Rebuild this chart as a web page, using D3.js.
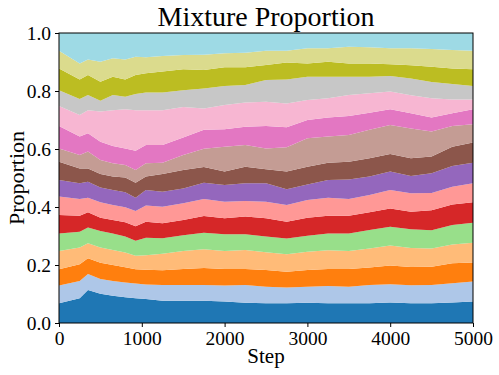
<!DOCTYPE html>
<html>
<head>
<meta charset="utf-8">
<script src="https://cdn.jsdelivr.net/npm/d3@7"></script>
<style>
  html, body { margin: 0; padding: 0; background: #fff; }
  svg text { font-family: "Liberation Serif", "Times New Roman", serif; fill: #000; }
</style>
</head>
<body>
<svg id="chart" width="499" height="375"></svg>
<script>
// ---- data ----
const steps = [0, 250, 350, 500, 650, 800, 925, 1050, 1250, 1500, 1750, 2000,
  2250, 2500, 2750, 3000, 3250, 3500, 3750, 4000, 4250, 4500, 4750, 5000];

const blue      = [.068,.085,.114,.101,.094,.089,.085,.083,.077,.077,.077,.074,.070,.068,.068,.070,.068,.068,.068,.071,.068,.068,.071,.074];
const lightBlue = [.061,.060,.055,.051,.051,.051,.051,.050,.054,.054,.054,.055,.061,.057,.054,.055,.060,.057,.063,.063,.062,.063,.066,.069];
const orange    = [.056,.058,.054,.056,.055,.052,.049,.051,.051,.055,.059,.057,.055,.058,.055,.058,.058,.061,.060,.064,.063,.063,.069,.066];
const lightOrng = [.063,.057,.052,.052,.052,.051,.047,.050,.057,.062,.064,.062,.066,.061,.060,.063,.065,.062,.066,.069,.066,.063,.065,.068];
const lightGrn  = [.061,.055,.054,.057,.057,.055,.052,.060,.053,.055,.057,.058,.054,.054,.054,.055,.058,.061,.064,.065,.064,.063,.067,.069];
const red       = [.063,.055,.053,.046,.046,.049,.050,.055,.052,.052,.058,.055,.061,.063,.058,.062,.061,.061,.061,.063,.061,.069,.071,.070];
const salmon    = [.064,.058,.050,.053,.052,.052,.052,.056,.057,.058,.059,.057,.054,.057,.058,.061,.062,.058,.059,.064,.063,.059,.061,.066];
const purple    = [.057,.054,.055,.051,.052,.052,.046,.054,.052,.051,.056,.058,.061,.064,.054,.054,.061,.067,.064,.063,.060,.068,.071,.071];
const brown     = [.063,.051,.046,.047,.046,.051,.052,.046,.061,.064,.054,.046,.057,.048,.061,.061,.060,.061,.063,.061,.061,.058,.067,.069];
const tan       = [.046,.046,.058,.048,.046,.043,.044,.046,.039,.051,.063,.086,.075,.072,.084,.098,.090,.092,.098,.100,.103,.086,.071,.063];
const pink      = [.077,.064,.063,.063,.059,.057,.066,.063,.061,.061,.065,.060,.063,.077,.069,.063,.066,.066,.059,.054,.052,.049,.044,.052];
const lightPink = [.069,.074,.080,.104,.124,.135,.140,.120,.120,.105,.074,.084,.083,.084,.082,.069,.066,.072,.067,.061,.062,.066,.048,.034];
const lightGray = [.055,.055,.052,.037,.052,.043,.056,.061,.061,.058,.069,.065,.061,.075,.083,.080,.074,.063,.057,.054,.058,.056,.053,.046];
const olive     = [.075,.068,.069,.066,.063,.060,.065,.066,.072,.072,.063,.065,.061,.052,.058,.046,.052,.046,.046,.040,.046,.053,.054,.058];
const lightOliv = [.061,.055,.054,.069,.064,.069,.063,.055,.054,.049,.053,.048,.050,.049,.041,.052,.046,.058,.056,.055,.058,.061,.063,.064];
const lightCyan = [.061,.105,.091,.099,.087,.091,.082,.084,.079,.076,.075,.070,.068,.061,.061,.053,.053,.047,.049,.053,.053,.055,.059,.061];

const series = [blue, lightBlue, orange, lightOrng, lightGrn, red, salmon, purple,
  brown, tan, pink, lightPink, lightGray, olive, lightOliv, lightCyan];
const colors = ['#1f77b4', '#aec7e8', '#ff7f0e', '#ffbb78', '#98df8a', '#d62728',
  '#ff9896', '#9467bd', '#8c564b', '#c49c94', '#e377c2', '#f7b6d2', '#c7c7c7',
  '#bcbd22', '#dbdb8d', '#9edae5'];
const xTicks = [0, 1000, 2000, 3000, 4000, 5000];
const yTicks = [0, 0.2, 0.4, 0.6, 0.8, 1.0];

// ---- layout ----
const svg = d3.select('#chart');
const margin = { top: 33, right: 26, bottom: 52, left: 59 };
const width = 499 - margin.left - margin.right;
const height = 375 - margin.top - margin.bottom;

const x = d3.scaleLinear().domain([0, 5000]).range([0, width]);
const y = d3.scaleLinear().domain([0, 1]).range([height, 0]);

const table = steps.map((s, i) => {
  const row = { step: s };
  series.forEach((arr, k) => { row['s' + k] = arr[i]; });
  return row;
});
const keys = series.map((_, k) => 's' + k);
const stacked = d3.stack().keys(keys)(table);

const g = svg.append('g').attr('transform', `translate(${margin.left},${margin.top})`);

const area = d3.area()
  .x((d) => x(d.data.step))
  .y0((d) => y(d[0]))
  .y1((d) => y(d[1]));

g.append('g')
  .selectAll('path')
  .data(stacked)
  .enter()
  .append('path')
  .attr('fill', (d, i) => colors[i])
  .attr('d', area);

// frame
g.append('rect')
  .attr('width', width).attr('height', height)
  .attr('fill', 'none').attr('stroke', '#000').attr('stroke-width', 1);

// axes
const xAxis = g.append('g')
  .attr('transform', `translate(0,${height})`)
  .call(d3.axisBottom(x).tickValues(xTicks).tickSize(4).tickPadding(4).tickFormat(d3.format('d')));
const yAxis = g.append('g')
  .call(d3.axisLeft(y).tickValues(yTicks).tickSize(4).tickPadding(4).tickFormat(d3.format('.1f')));

[xAxis, yAxis].forEach((ax) => {
  ax.select('.domain').remove();
  ax.selectAll('line').attr('stroke', '#000');
  ax.selectAll('text').attr('font-size', 19.5)
    .style('font-family', '"Liberation Serif", serif');
});

// labels
svg.append('text')
  .attr('x', margin.left + width / 2).attr('y', 26)
  .attr('text-anchor', 'middle').attr('font-size', 28)
  .text('Mixture Proportion');

svg.append('text')
  .attr('x', margin.left + width / 2).attr('y', 363)
  .attr('text-anchor', 'middle').attr('font-size', 21)
  .text('Step');

svg.append('text')
  .attr('transform', `translate(24,${margin.top + height / 2}) rotate(-90)`)
  .attr('text-anchor', 'middle').attr('font-size', 22)
  .text('Proportion');
</script>
</body>
</html>
